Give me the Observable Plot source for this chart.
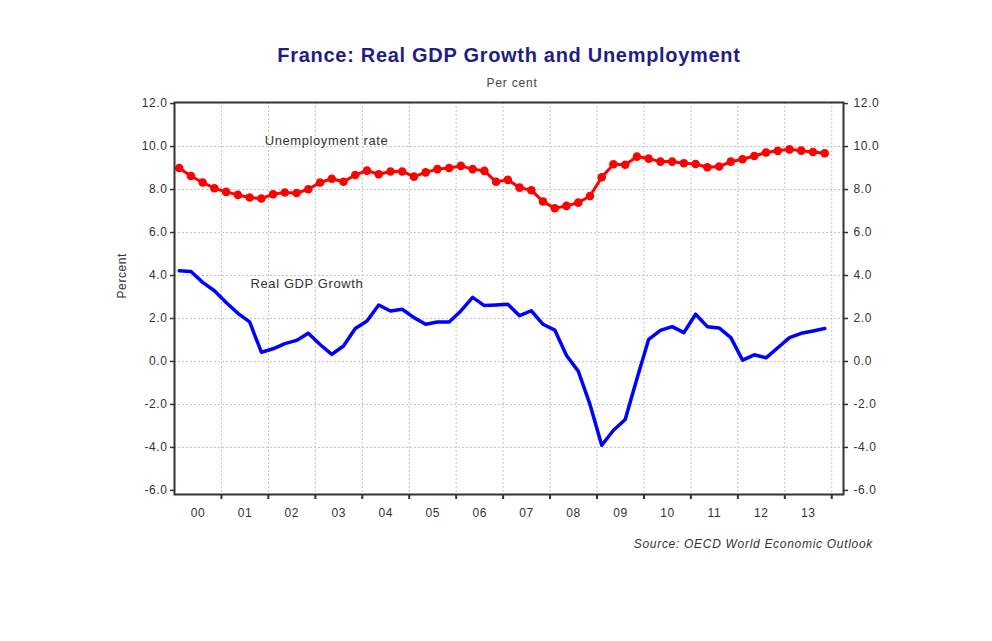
<!DOCTYPE html>
<html>
<head>
<meta charset="utf-8">
<script src="https://cdn.jsdelivr.net/npm/d3@7"></script>
<script src="https://cdn.jsdelivr.net/npm/@observablehq/plot@0.6"></script>
<style>
  html, body { margin: 0; padding: 0; background: #fff; }
  #wrap { position: relative; width: 992px; height: 641px; font-family: Arial, "Liberation Sans", sans-serif; }
  #chart { position: absolute; left: 0; top: 0; }
  #chart svg text { letter-spacing: 0.6px; }
  .t { position: absolute; white-space: nowrap; }
  #title { left: 0; width: 1018px; top: 44px; text-align: center; font-size: 20px; font-weight: bold; color: #1e1e85; letter-spacing: 0.7px; }
  #sub { left: 0; width: 1024px; top: 76px; text-align: center; font-size: 12px; color: #444; letter-spacing: 0.8px; }
  #source { right: 119px; top: 537px; font-size: 12px; font-style: italic; color: #333; letter-spacing: 0.7px; }
</style>
</head>
<body>
<div id="wrap">
  <div id="chart"></div>
  <div class="t" id="title">France: Real GDP Growth and Unemployment</div>
  <div class="t" id="sub">Per cent</div>
  <div class="t" id="source">Source: OECD World Economic Outlook</div>
</div>
<script>
// ---- data ----
const years = [2000, 2001, 2002, 2003, 2004, 2005, 2006, 2007, 2008, 2009, 2010, 2011, 2012, 2013];
const yearLabels = ["00", "01", "02", "03", "04", "05", "06", "07", "08", "09", "10", "11", "12", "13"];
const quarters = [1, 2, 3, 4];
// Unemployment rate, quarterly 2000Q1–2013Q4 (%)
const unemployment = [
  9.00, 8.63, 8.33, 8.06,  7.89, 7.75, 7.63, 7.58,  7.78, 7.86, 7.84, 8.01,
  8.33, 8.50, 8.36, 8.68,  8.88, 8.71, 8.84, 8.84,  8.60, 8.80, 8.95, 9.00,
  9.10, 8.95, 8.87, 8.36,  8.45, 8.09, 7.97, 7.44,  7.13, 7.24, 7.39, 7.70,
  8.57, 9.18, 9.15, 9.53,  9.44, 9.30, 9.30, 9.22,  9.19, 9.04, 9.07, 9.30,
  9.41, 9.56, 9.72, 9.80,  9.87, 9.81, 9.75, 9.69
];
// Real GDP growth, quarterly 2000Q1–2013Q4 (% y/y)
const gdpGrowth = [
  4.22, 4.19, 3.68, 3.29,  2.74, 2.24, 1.84, 0.43,  0.59, 0.83, 0.98, 1.31,
  0.79, 0.33, 0.72, 1.53,  1.88, 2.63, 2.35, 2.43,  2.04, 1.73, 1.84, 1.84,
  2.35, 2.98, 2.60, 2.63,  2.66, 2.13, 2.36, 1.73,  1.46, 0.28, -0.45, -2.00,
  -3.90, -3.20, -2.70, -0.80,  1.03, 1.45, 1.62, 1.34,  2.20, 1.62, 1.56, 1.11,
  0.06, 0.31, 0.17, 0.64,  1.11, 1.31, 1.42, 1.53
];
const yTicks = [-6, -4, -2, 0, 2, 4, 6, 8, 10, 12];
const yGrid = [-4, -2, 0, 2, 4, 6, 8, 10];
const seriesLabels = ["Unemployment rate", "Real GDP Growth"];
const labelX = [2001.92, 2001.62];
const labelY = [10.28, 3.63];

// ---- build table ----
const rows = [];
years.forEach((yr, yi) => quarters.forEach((q, qi) => {
  const i = yi * 4 + qi;
  rows.push({t: yr + (q - 1) / 4 + 0.1, u: unemployment[i], g: gdpGrowth[i]});
}));
const boundaries = years.map(y => y + 1);
const centers = years.map(y => y + 0.5);
const labels = seriesLabels.map((s, i) => ({s, x: labelX[i], y: labelY[i]}));

const gridStyle = {stroke: "#c4c4c4", strokeOpacity: 1, strokeDasharray: "2,2", strokeWidth: 1};

const chart = Plot.plot({
  width: 992,
  height: 641,
  marginLeft: 174,
  marginRight: 149,
  marginTop: 102,
  marginBottom: 147,
  style: {fontFamily: "Arial, 'Liberation Sans', sans-serif", fontSize: "12px", color: "#333", background: "white"},
  x: {domain: [2000, 2014.25]},
  y: {domain: [-6.19, 12.05]},
  marks: [
    Plot.gridY(yGrid, gridStyle),
    Plot.gridX(boundaries, gridStyle),
    Plot.line(rows, {x: "t", y: "g", stroke: "#0000ff", strokeWidth: 3.5}),
    Plot.line(rows, {x: "t", y: "u", stroke: "#ff0000", strokeWidth: 3}),
    Plot.dot(rows, {x: "t", y: "u", fill: "#ff0000", r: 4.3}),
    Plot.axisY(yTicks, {anchor: "left", tickSize: 4, tickPadding: 3, tickFormat: d => d.toFixed(1), label: null, stroke: "#333", strokeWidth: 1.5}),
    Plot.axisY(yTicks, {anchor: "right", tickSize: 4, tickPadding: 6, tickFormat: d => d.toFixed(1), label: null, stroke: "#333", strokeWidth: 1.5}),
    Plot.axisX(boundaries, {anchor: "bottom", tickSize: 5, tickFormat: () => "", label: null, stroke: "#333", strokeWidth: 2}),
    Plot.axisX(centers, {anchor: "bottom", tickSize: 0, tickPadding: 14, tickFormat: d => yearLabels[years.indexOf(Math.floor(d))], label: null}),
    Plot.frame({stroke: "#333", strokeWidth: 2}),
    Plot.text(labels, {x: "x", y: "y", text: "s", textAnchor: "start", fill: "#333", fontSize: 13}),
    Plot.text(["Percent"], {frameAnchor: "left", dx: -52, rotate: -90, fill: "#333", fontSize: 12})
  ]
});
document.getElementById("chart").appendChild(chart);
</script>
</body>
</html>
